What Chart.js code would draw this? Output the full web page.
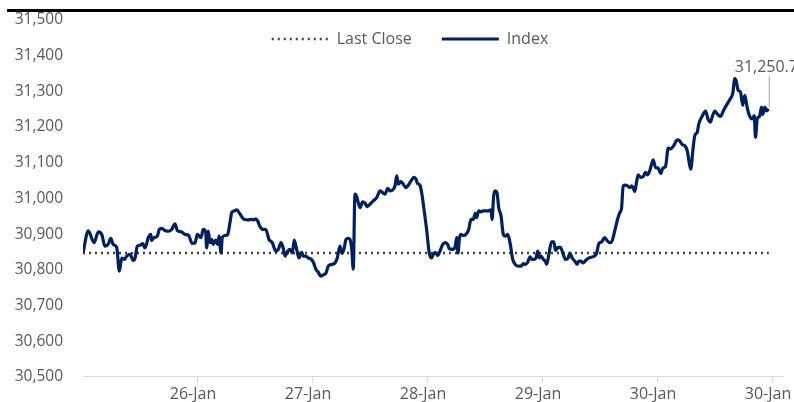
<!DOCTYPE html>
<html>
<head>
<meta charset="utf-8">
<script src="https://cdn.jsdelivr.net/npm/chart.js@4.4.1/dist/chart.umd.min.js"></script>
<style>
  html, body { margin: 0; padding: 0; background: #fff; }
</style>
</head>
<body>
<canvas id="chart" width="794" height="402"></canvas>
<script>
// Intraday index, time in trading days from the first session
const times = [
  0, 0.046, 0.096, 0.133, 0.163, 0.191, 0.220, 0.241, 0.263, 0.293, 0.316, 0.337, 0.359, 0.380, 0.409, 0.437, 0.452, 0.472, 0.496, 0.519,
  0.539, 0.568, 0.589, 0.597, 0.617, 0.646, 0.663, 0.684, 0.713, 0.742, 0.771, 0.800, 0.820, 0.858, 0.887, 0.916, 0.950, 0.974, 0.994,
  1.026, 1.046, 1.067, 1.075, 1.090, 1.104, 1.119, 1.133, 1.154, 1.171, 1.183, 1.200, 1.211, 1.235, 1.258, 1.278, 1.293, 1.316, 1.337, 1.365,
  1.403, 1.437, 1.467, 1.490, 1.502, 1.519, 1.539, 1.568, 1.589, 1.617, 1.646, 1.676, 1.698, 1.722, 1.742, 1.757, 1.780, 1.800, 1.820, 1.837,
  1.858, 1.878, 1.902, 1.916, 1.937, 1.959, 1.983,
  2.003, 2.024, 2.046, 2.067, 2.090, 2.113, 2.133, 2.163, 2.191, 2.211, 2.235, 2.252, 2.270, 2.287, 2.307, 2.322, 2.337, 2.350, 2.365, 2.380,
  2.409, 2.432, 2.452, 2.472, 2.496, 2.524, 2.554, 2.583, 2.606, 2.626, 2.650, 2.670, 2.693, 2.713, 2.728, 2.742, 2.763, 2.785, 2.809, 2.829,
  2.858, 2.878, 2.896, 2.907, 2.930, 2.945, 2.965, 2.988,
  3.011, 3.032, 3.046, 3.064, 3.084, 3.104, 3.128, 3.150, 3.171, 3.185, 3.215, 3.237, 3.250, 3.261, 3.272, 3.287, 3.307, 3.330, 3.354, 3.374,
  3.394, 3.411, 3.423, 3.441, 3.461, 3.481, 3.504, 3.528, 3.548, 3.557, 3.571, 3.585, 3.600, 3.615, 3.635, 3.655, 3.672, 3.693, 3.713, 3.737,
  3.759, 3.789, 3.809, 3.829, 3.846, 3.867, 3.887, 3.904, 3.924, 3.939, 3.954, 3.968, 3.983,
  4.003, 4.020, 4.032, 4.051, 4.074, 4.094, 4.109, 4.132, 4.152, 4.176, 4.196, 4.219, 4.233, 4.254, 4.277, 4.297, 4.311, 4.329, 4.350, 4.370,
  4.393, 4.416, 4.445, 4.465, 4.485, 4.509, 4.537, 4.561, 4.581, 4.602, 4.624, 4.648, 4.668, 4.683, 4.697, 4.717, 4.735, 4.755, 4.770, 4.784,
  4.798, 4.813, 4.828, 4.851, 4.871, 4.891, 4.909, 4.929, 4.958, 4.978,
  5.001, 5.024, 5.042, 5.065, 5.089, 5.109, 5.137, 5.167, 5.187, 5.210, 5.233, 5.254, 5.274, 5.285, 5.303, 5.320, 5.341, 5.355, 5.384, 5.413,
  5.437, 5.457, 5.471, 5.494, 5.515, 5.543, 5.572, 5.602, 5.630, 5.650, 5.668, 5.680, 5.697, 5.717, 5.737, 5.755, 5.775, 5.795, 5.819, 5.837,
  5.848, 5.863, 5.883, 5.900, 5.911, 5.929, 5.943, 5.963
];

const indexValues = [
  30847, 30909, 30876, 30906, 30899, 30866, 30872, 30888, 30871, 30863, 30796, 30833, 30829, 30838, 30843, 30826, 30832, 30866, 30869, 30873,
  30861, 30890, 30899, 30882, 30890, 30894, 30913, 30916, 30910, 30908, 30913, 30929, 30910, 30906, 30899, 30897, 30874, 30875, 30899,
  30890, 30913, 30906, 30861, 30908, 30876, 30885, 30871, 30883, 30871, 30894, 30847, 30890, 30896, 30899, 30932, 30960, 30965, 30968, 30956,
  30941, 30940, 30941, 30940, 30943, 30937, 30921, 30913, 30913, 30885, 30876, 30852, 30857, 30876, 30859, 30838, 30852, 30857, 30847, 30883,
  30857, 30833, 30849, 30838, 30838, 30833, 30830,
  30821, 30802, 30793, 30782, 30786, 30791, 30810, 30815, 30819, 30833, 30866, 30846, 30859, 30885, 30888, 30885, 30857, 30802, 31012, 31005,
  30974, 30990, 30987, 30977, 30984, 30993, 31002, 31021, 31016, 31012, 31028, 31021, 31024, 31035, 31063, 31040, 31047, 31040, 31030, 31037,
  31052, 31059, 31054, 31043, 31037, 31016, 30970, 30913,
  30847, 30833, 30843, 30849, 30840, 30852, 30871, 30876, 30871, 30859, 30857, 30866, 30890, 30847, 30885, 30899, 30896, 30899, 30913, 30941,
  30941, 30958, 30946, 30965, 30962, 30965, 30965, 30965, 30968, 30941, 31007, 31021, 31016, 30974, 30951, 30899, 30894, 30899, 30876, 30829,
  30815, 30810, 30810, 30817, 30815, 30821, 30836, 30829, 30829, 30833, 30852, 30833, 30838,
  30829, 30824, 30815, 30843, 30878, 30878, 30854, 30863, 30863, 30843, 30829, 30833, 30847, 30833, 30824, 30815, 30824, 30824, 30819, 30826,
  30832, 30835, 30838, 30845, 30873, 30878, 30890, 30880, 30876, 30882, 30909, 30941, 30960, 30972, 31035, 31037, 31035, 31030, 31035, 31030,
  31019, 31045, 31066, 31059, 31061, 31073, 31066, 31078, 31108, 31087,
  31085, 31070, 31085, 31089, 31141, 31139, 31148, 31164, 31162, 31151, 31148, 31134, 31096, 31082, 31134, 31176, 31185, 31209, 31230, 31245,
  31220, 31214, 31228, 31245, 31237, 31230, 31248, 31265, 31280, 31294, 31336, 31329, 31303, 31298, 31261, 31289, 31256, 31232, 31223, 31232,
  31171, 31223, 31230, 31256, 31235, 31256, 31245, 31250.7
];

const lastClose = 30847;

const tickDays = [1, 2, 3, 4, 5, 6];
const tickLabels = ["26-Jan", "27-Jan", "28-Jan", "29-Jan", "30-Jan", "30-Jan"];

const yMin = 30500;
const yMax = 31500;
const yStep = 100;

const textColor = "#595959";
const fontFamily = "'Open Sans', 'Noto Sans', sans-serif";
const fontSize = 16;

const indexPoints = times.map((t, i) => ({ x: t, y: indexValues[i] }));
const closePoints = [
  { x: times[0], y: lastClose },
  { x: times[times.length - 1], y: lastClose },
];

// thick black rule across the top
const topRule = {
  id: "topRule",
  beforeDraw(chart) {
    const ctx = chart.ctx;
    ctx.save();
    ctx.fillStyle = "#000";
    ctx.fillRect(7, 9, chart.width - 7, 3);
    ctx.restore();
  },
};

// legend lives inside the plot area but laid out in one row
const legendNudge = {
  id: "legendNudge",
  afterInit(chart) {
    chart.legend.isHorizontal = () => true;
  },
  afterLayout(chart) {
    const lg = chart.legend;
    lg.top -= 19;
    lg.bottom -= 19;
    lg.left += 60;
    lg.right += 60;
  },
};

// value label with leader line on the last point
const lastLabel = {
  id: "lastLabel",
  afterDatasetsDraw(chart) {
    const meta = chart.getDatasetMeta(1);
    const pt = meta.data[meta.data.length - 1];
    if (!pt) return;
    const ctx = chart.ctx;
    const last = indexValues[indexValues.length - 1];
    ctx.save();
    ctx.strokeStyle = "#a6a6a6";
    ctx.lineWidth = 1;
    ctx.beginPath();
    ctx.moveTo(pt.x + 0.5, pt.y - 33);
    ctx.lineTo(pt.x + 0.5, pt.y - 2);
    ctx.stroke();
    ctx.fillStyle = textColor;
    ctx.font = fontSize + "px " + fontFamily;
    ctx.textAlign = "left";
    ctx.textBaseline = "middle";
    const txt = last.toLocaleString("en-US", { minimumFractionDigits: 1, maximumFractionDigits: 1 });
    ctx.fillText(txt, pt.x - 34, pt.y - 42);
    ctx.restore();
  },
};

const ctx = document.getElementById("chart").getContext("2d");
new Chart(ctx, {
  type: "line",
  data: {
    datasets: [
      {
        label: "Last Close",
        data: closePoints,
        borderColor: "#404040",
        borderWidth: 2.5,
        borderDash: [2, 4],
        pointRadius: 0,
        order: 1,
      },
      {
        label: "Index",
        data: indexPoints,
        borderColor: "#002060",
        borderWidth: 3.2,
        pointRadius: 0,
        cubicInterpolationMode: "monotone",
        order: 0,
      },
    ],
  },
  options: {
    responsive: false,
    animation: false,
    layout: {
      padding: { left: 15, right: 11, top: 20, bottom: -4 },
    },
    plugins: {
      legend: {
        position: "chartArea",
        align: "center",
        labels: {
          usePointStyle: true,
          pointStyle: "line",
          pointStyleWidth: 57,
          padding: 30,
          color: textColor,
          font: { size: fontSize, family: fontFamily },
          sort: (a, b) => a.datasetIndex - b.datasetIndex,
          generateLabels: (chart) =>
            Chart.defaults.plugins.legend.labels.generateLabels(chart).map((item) => {
              const ds = chart.data.datasets[item.datasetIndex];
              item.lineDash = ds.borderDash || [];
              item.strokeStyle = ds.borderColor;
              item.lineWidth = ds.borderWidth;
              return item;
            }),
        },
      },
      tooltip: { enabled: false },
    },
    scales: {
      x: {
        type: "linear",
        min: 0,
        max: 6.087,
        afterBuildTicks: (scale) => {
          scale.ticks = tickDays.map((d) => ({ value: d }));
        },
        afterFit: (scale) => {
          scale.paddingLeft = 0;
          scale.paddingRight = 0;
        },
        grid: {
          display: true,
          drawOnChartArea: false,
          drawTicks: true,
          tickLength: 6,
          color: "#d9d9d9",
        },
        border: { display: true, color: "#d9d9d9", width: 1 },
        ticks: {
          autoSkip: false,
          maxRotation: 0,
          padding: 2,
          labelOffset: -5,
          color: textColor,
          font: { size: fontSize, family: fontFamily },
          callback: (value, i) => tickLabels[i],
        },
      },
      y: {
        min: yMin,
        max: yMax,
        afterFit: (scale) => {
          scale.width = 68;
          scale.paddingTop = 0;
          scale.paddingBottom = 0;
        },
        grid: { display: false, drawTicks: false },
        border: { display: false },
        ticks: {
          stepSize: yStep,
          padding: 20,
          color: textColor,
          font: { size: 15.5, family: fontFamily },
          callback: (value) => value.toLocaleString("en-US"),
        },
      },
    },
  },
  plugins: [topRule, legendNudge, lastLabel],
});
</script>
</body>
</html>
